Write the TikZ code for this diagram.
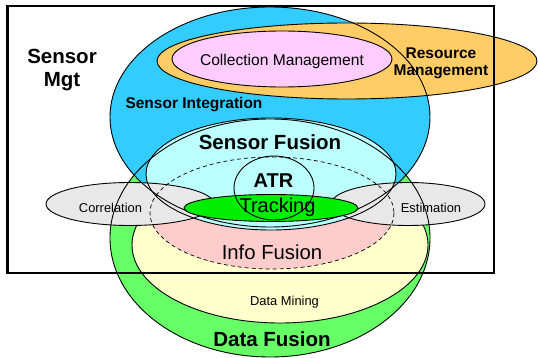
\documentclass[tikz,border=0pt]{standalone}
\usepackage{fontspec}
\setmainfont{Liberation Sans}
\definecolor{siblue}{HTML}{33CCFF}
\definecolor{rmorange}{HTML}{FFCC66}
\definecolor{cmpink}{HTML}{FFCCFF}
\definecolor{sfcyan}{HTML}{BBFFFF}
\definecolor{ifpink}{HTML}{FFCCCC}
\definecolor{dmyellow}{HTML}{FFFFCC}
\definecolor{dfgreen}{HTML}{66FF66}
\definecolor{cegray}{HTML}{E8E8E8}
\definecolor{trgreen}{HTML}{00EE00}
\begin{document}
\begin{tikzpicture}[x=1pt,y=-1pt,line width=0.9pt,
  lbl/.style={anchor=base,inner sep=0pt},
  bigbold/.style={lbl,font=\fontsize{20.5}{24}\selectfont\bfseries},
  bigreg/.style={lbl,font=\fontsize{20.3}{24}\selectfont},
  midbold/.style={lbl,font=\fontsize{15.5}{18}\selectfont\bfseries},
  midreg/.style={lbl,font=\fontsize{15.6}{18}\selectfont},
  smallreg/.style={lbl,font=\fontsize{12.9}{15}\selectfont},
  dashedline/.style={dash pattern=on 4pt off 3pt}]
\useasboundingbox (0,0) rectangle (538,358);
% fills
\fill[dfgreen] (270,238) ellipse [x radius=160,y radius=119];
\fill[siblue] (270,117) ellipse [x radius=160,y radius=110];
\fill[rmorange] (347,61) ellipse [x radius=190,y radius=38];
\fill[cmpink] (282,59) ellipse [x radius=110,y radius=28];
\filldraw[fill=dmyellow] (280,245) ellipse [x radius=148,y radius=78];
\fill[ifpink] (272,213) ellipse [x radius=122,y radius=56];
\fill[sfcyan] (271,174) ellipse [x radius=125,y radius=56];
\filldraw[fill=cegray] (130,204) ellipse [x radius=84,y radius=21.5];
\filldraw[fill=cegray] (408,204) ellipse [x radius=77,y radius=21.5];
% outlines
\draw (270,238) ellipse [x radius=160,y radius=119];
\draw (270,117) ellipse [x radius=160,y radius=110];
\draw (347,61) ellipse [x radius=190,y radius=38];
\draw (282,59) ellipse [x radius=110,y radius=28];
\draw[dashedline,line width=0.7pt] (272,213) ellipse [x radius=122,y radius=56];
\draw (271,174) ellipse [x radius=125,y radius=56];
% tracking and ATR
\filldraw[fill=trgreen] (271,208) ellipse [x radius=87,y radius=13.5];
\draw (274,188) ellipse [x radius=40,y radius=32];
% Sensor Mgt rectangle
\draw[line width=2.4pt] (7.5,6) rectangle (494,273);
% labels
\node[bigbold] (sm1) at (62,64) {Sensor};
\node[bigbold] (sm2) at (62,86.5) {Mgt};
\node[midreg] (cm) at (282,65.5) {Collection Management};
\node[midbold] (rm1) at (441,58.5) {Resource};
\node[midbold] (rm2) at (441,76) {Management};
\node[midbold] (si) at (194,109) {Sensor Integration};
\node[bigbold] (sf) at (270,150) {Sensor Fusion};
\node[bigbold,font=\fontsize{20}{24}\selectfont\bfseries] (atr) at (273.5,188) {ATR};
\node[bigreg,font=\fontsize{20}{24}\selectfont] (trk) at (277.5,212.6) {Tracking};
\node[bigreg] (inf) at (272,259.5) {Info Fusion};
\node[smallreg] (cor) at (110.5,213) {Correlation};
\node[smallreg] (est) at (431,213) {Estimation};
\node[smallreg] (dm) at (284.5,305) {Data Mining};
\node[bigbold] (df) at (272,346.5) {Data Fusion};
\end{tikzpicture}
\end{document}
